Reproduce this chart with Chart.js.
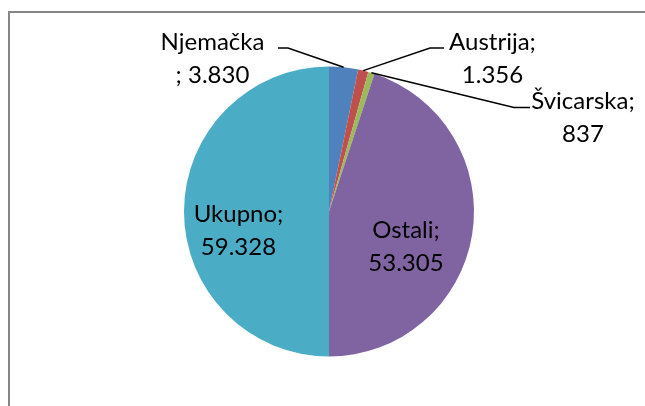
<!DOCTYPE html>
<html>
<head>
<meta charset="utf-8">
<script src="https://cdn.jsdelivr.net/npm/chart.js@4.4.1/dist/chart.umd.min.js"></script>
<style>
  html, body { margin: 0; padding: 0; background: #ffffff; }
  #wrap { position: relative; width: 645px; height: 406px; }
  canvas { display: block; }
</style>
</head>
<body>
<div id="wrap"><canvas id="c" width="645" height="406"></canvas></div>
<script>
const categories = ['Njemačka', 'Austrija', 'Švicarska', 'Ostali', 'Ukupno'];
const values = [3830, 1356, 837, 53305, 59328];
const valueLabels = ['3.830', '1.356', '837', '53.305', '59.328'];
const colors = ['#4F81BD', '#C0504D', '#9BBB59', '#8064A2', '#4BACC6'];

const FONT = '24px Lato';

// label layout (text lines, line centres relative to pie centre, leader elbows)
const labelSpecs = [
  { lines: ['Njemačka', '; ' + valueLabels[0]], dx: -116.5, dy: [-169, -136.5], leader: { elbow: [-41, -163.5], end: [-51, -163.5] } },
  { lines: ['Austrija;', valueLabels[1]], dx: 163.5, dy: [-169, -136.5], leader: { elbow: [101, -163.5], end: [115, -163.5] } },
  { lines: ['Švicarska;', valueLabels[2]], dx: 254, dy: [-110.5, -77], leader: { elbow: [185, -104], end: [201, -104] } },
  { lines: ['Ostali;', valueLabels[3]], dx: 77, dy: [19, 51.5], leader: null },
  { lines: ['Ukupno;', valueLabels[4]], dx: -90.5, dy: [3, 35.5], leader: null }
];

const framePlugin = {
  id: 'frame',
  beforeDraw(chart) {
    const ctx = chart.ctx;
    ctx.save();
    ctx.strokeStyle = '#868686';
    ctx.lineWidth = 2;
    ctx.beginPath();
    ctx.moveTo(9, chart.height + 5);
    ctx.lineTo(9, 12);
    ctx.lineTo(chart.width + 5, 12);
    ctx.stroke();
    ctx.restore();
  }
};

const labelPlugin = {
  id: 'pieLabels',
  afterDatasetsDraw(chart) {
    const ctx = chart.ctx;
    const meta = chart.getDatasetMeta(0);
    ctx.save();
    meta.data.forEach((arc, i) => {
      const spec = labelSpecs[i];
      const cx = arc.x, cy = arc.y;
      if (spec.leader) {
        const mid = (arc.startAngle + arc.endAngle) / 2;
        const px = cx + Math.cos(mid) * arc.outerRadius;
        const py = cy + Math.sin(mid) * arc.outerRadius;
        ctx.strokeStyle = '#000000';
        ctx.lineWidth = 1.5;
        ctx.beginPath();
        ctx.moveTo(px, py);
        ctx.lineTo(cx + spec.leader.elbow[0], cy + spec.leader.elbow[1]);
        ctx.lineTo(cx + spec.leader.end[0], cy + spec.leader.end[1]);
        ctx.stroke();
      }
      ctx.fillStyle = '#000000';
      ctx.font = FONT;
      ctx.textAlign = 'center';
      ctx.textBaseline = 'middle';
      spec.lines.forEach((t, k) => {
        ctx.fillText(t, cx + spec.dx, cy + spec.dy[k]);
      });
    });
    ctx.restore();
  }
};

new Chart(document.getElementById('c'), {
  type: 'pie',
  data: {
    labels: categories,
    datasets: [{
      data: values,
      backgroundColor: colors,
      borderWidth: 0
    }]
  },
  options: {
    responsive: false,
    animation: false,
    layout: { padding: { left: 184, right: 171, top: 66, bottom: 49 } },
    plugins: {
      legend: { display: false },
      tooltip: { enabled: false }
    }
  },
  plugins: [framePlugin, labelPlugin]
});
</script>
</body>
</html>
